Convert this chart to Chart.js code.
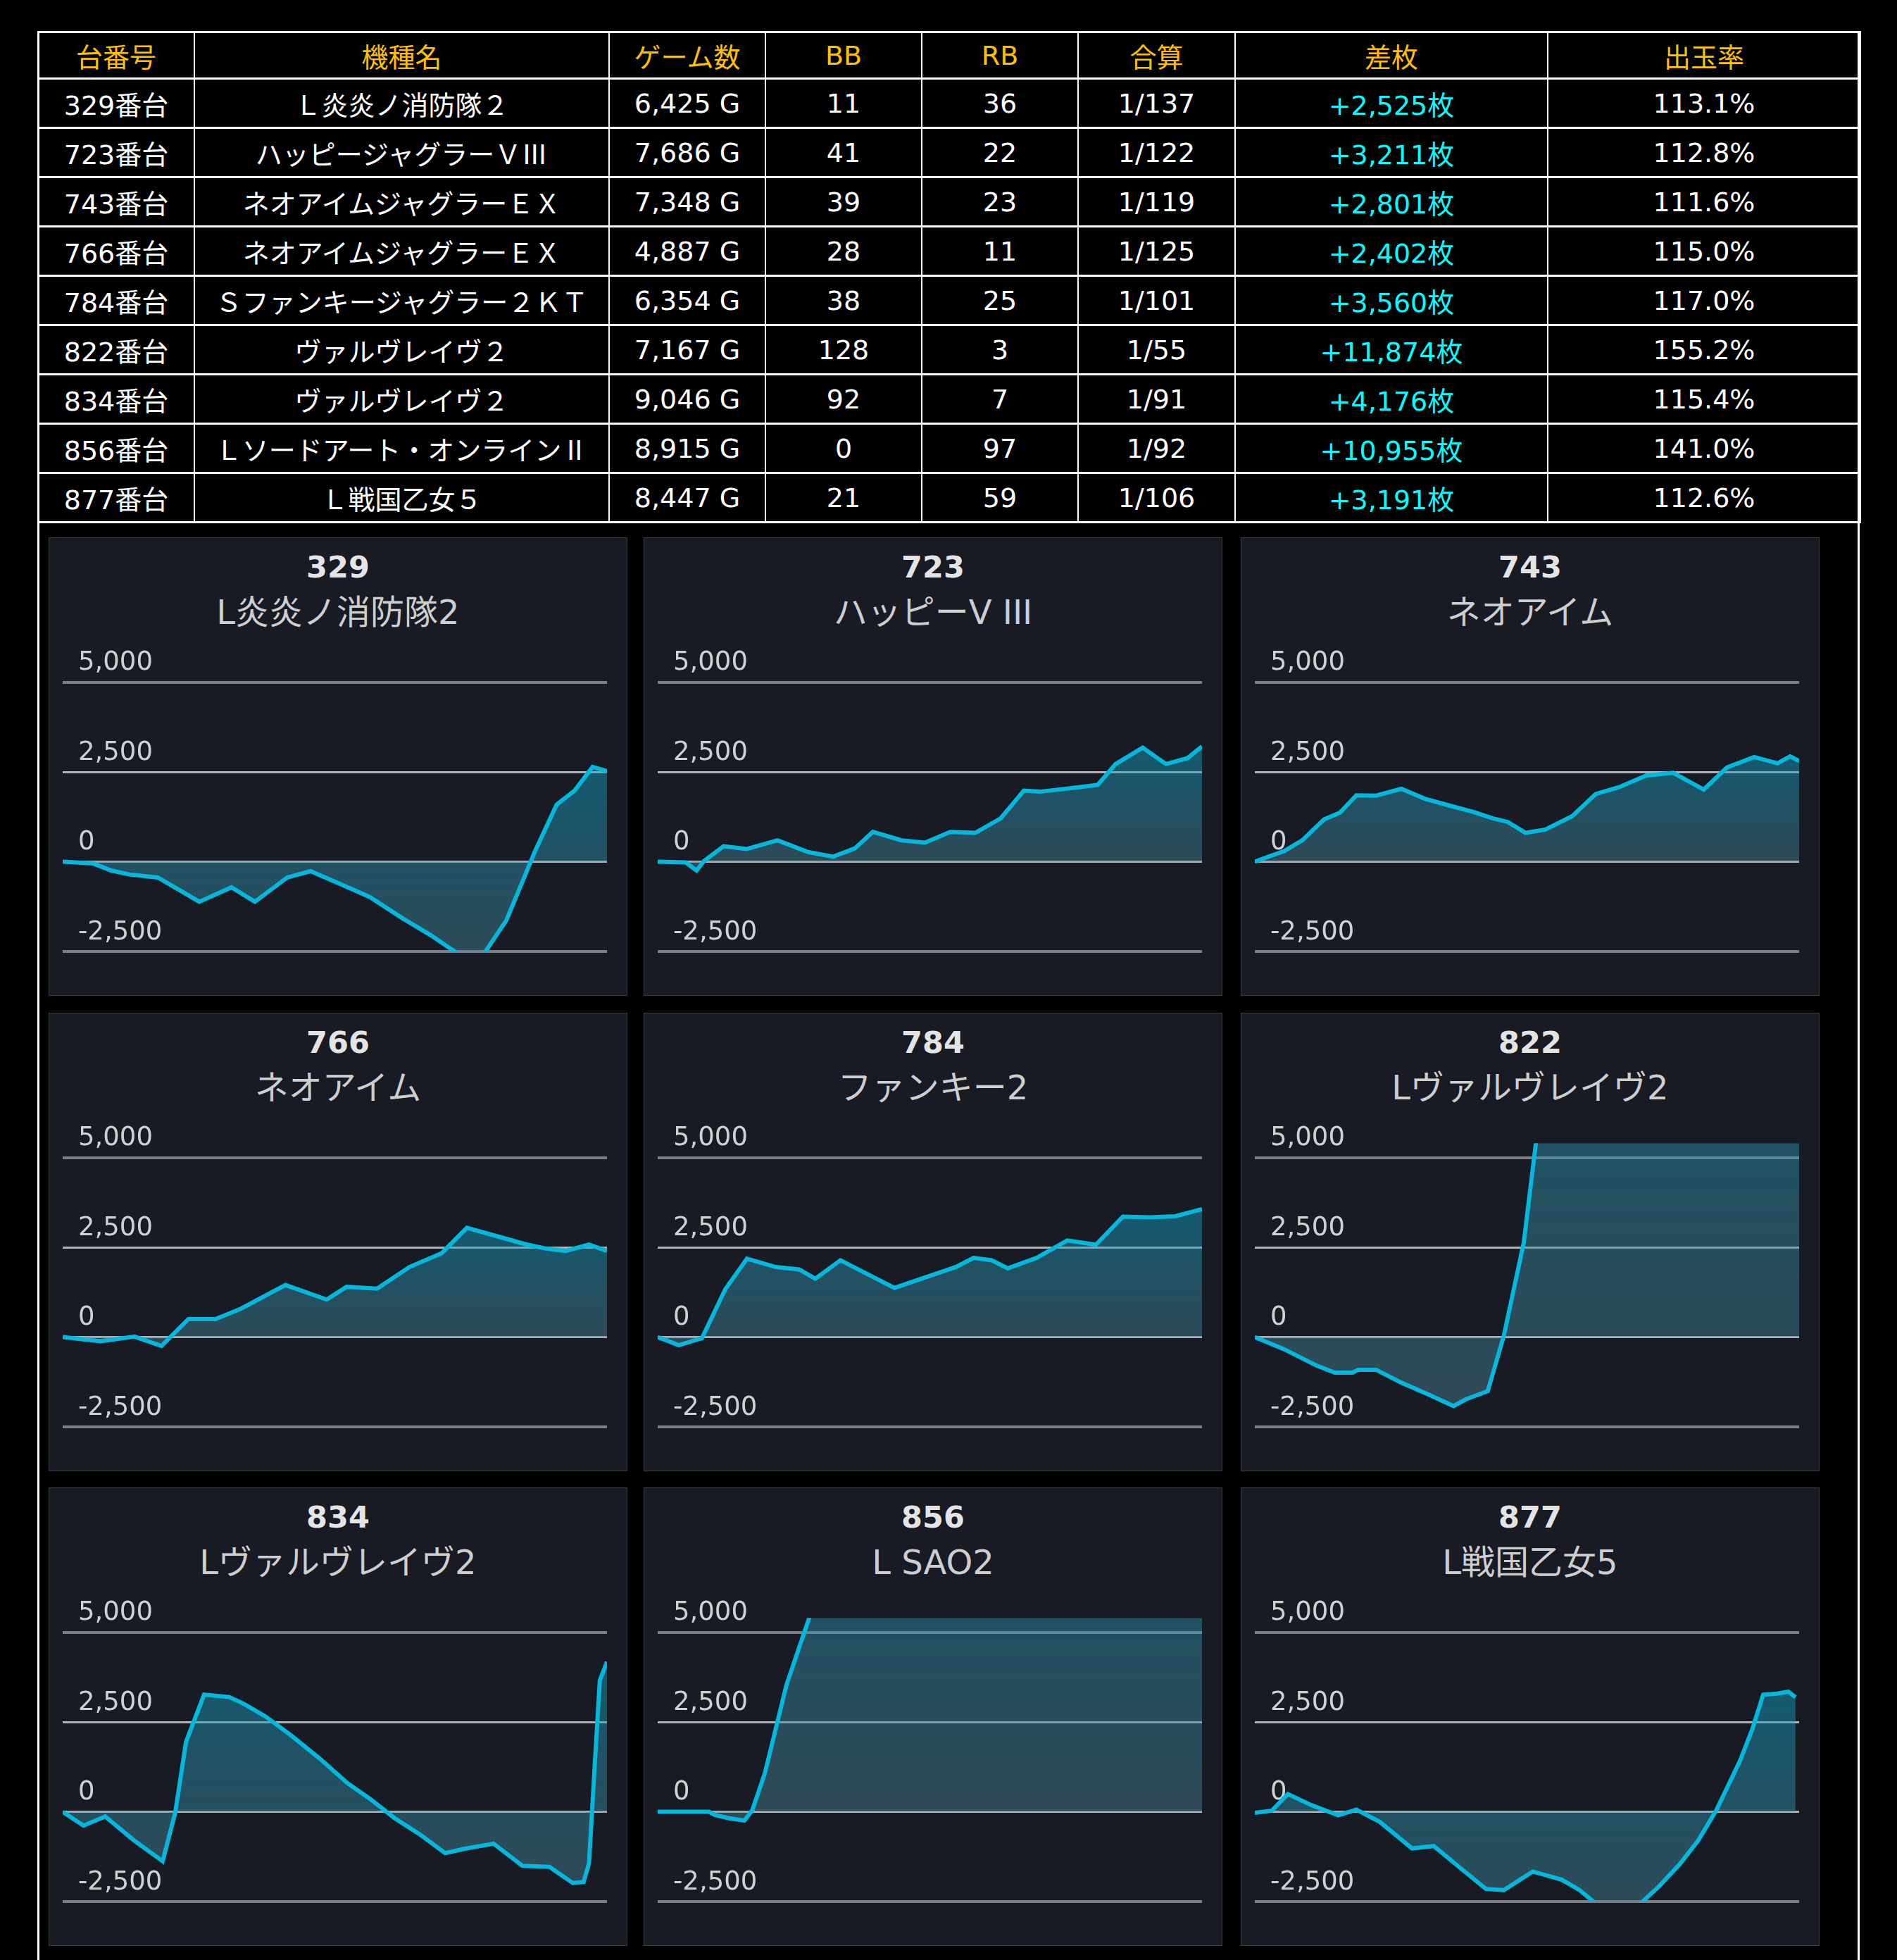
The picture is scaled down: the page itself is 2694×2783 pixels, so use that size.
<html>
<head>
<meta charset="UTF-8">
<script src="https://cdn.jsdelivr.net/npm/chart.js@4.4.0/dist/chart.umd.min.js"></script>
<style>
body {margin: 0; padding: 0; background: #000; width: 2694px; height: 2783px; overflow: hidden;}
#box {position: absolute; left: 53px; top: 44px; width: 2582px; height: 2760px; border-left: 3px solid #fff; border-right: 3px solid #fff;}
#tbl {position: absolute; left: 53px; top: 44px; width: 2588px; border-collapse: collapse; table-layout: fixed;
      font-family: "DejaVu Sans", "Noto Sans CJK JP"; font-size: 38px; color: #fff;}
#tbl td, #tbl th {border: 2px solid #fff; border-top-width: 3px; border-bottom-width: 3px; padding: 0; text-align: center; height: 70px; font-weight: normal;}
#tbl th {color: #ffc000; height: 66px;}
#tbl td.diff {color: #00ffff;}
.cjk {font-family: "Noto Sans CJK JP";}
.panel {position: absolute; width: 820px; height: 649px; background: #181b24; border: 1px solid #3a3d46;}
.no {position: absolute; top: 16px; left: 0; width: 100%; text-align: center; font: bold 43px "DejaVu Sans"; color: #e4e4e4; line-height: 50px;}
.nm {position: absolute; top: 75px; left: 0; width: 100%; text-align: center; font-size: 48px; font-family: "DejaVu Sans", "Noto Sans CJK JP"; color: #cdced0; line-height: 60px;}
.panel canvas {position: absolute; left: 0; top: 140px;}
</style>
</head>
<body>

<div id="box"></div>
<table id="tbl">
  <colgroup>
    <col style="width:222px"><col style="width:589px"><col style="width:222px"><col style="width:222px">
    <col style="width:222px"><col style="width:223px"><col style="width:444px"><col style="width:444px">
  </colgroup>
  <thead id="thead"></thead>
  <tbody id="tbody"></tbody>
</table>
<div id="grid"></div>

<script>
// table data
var headers = ['台番号', '機種名', 'ゲーム数', 'BB', 'RB', '合算', '差枚', '出玉率'];
var machineNos = [329, 723, 743, 766, 784, 822, 834, 856, 877];
var tableNames = ['Ｌ炎炎ノ消防隊２', 'ハッピージャグラーＶⅢ', 'ネオアイムジャグラーＥＸ', 'ネオアイムジャグラーＥＸ',
                  'Ｓファンキージャグラー２ＫＴ', 'ヴァルヴレイヴ２', 'ヴァルヴレイヴ２', 'Ｌソードアート・オンラインⅡ', 'Ｌ戦国乙女５'];
var chartNames = ['L炎炎ノ消防隊2', 'ハッピーV III', 'ネオアイム', 'ネオアイム', 'ファンキー2',
                  'Lヴァルヴレイヴ2', 'Lヴァルヴレイヴ2', 'L SAO2', 'L戦国乙女5'];
var games = [6425, 7686, 7348, 4887, 6354, 7167, 9046, 8915, 8447];
var bb = [11, 41, 39, 28, 38, 128, 92, 0, 21];
var rb = [36, 22, 23, 11, 25, 3, 7, 97, 59];
var gassan = ['1/137', '1/122', '1/119', '1/125', '1/101', '1/55', '1/91', '1/92', '1/106'];
var samai = [2525, 3211, 2801, 2402, 3560, 11874, 4176, 10955, 3191];
var rate = ['113.1%', '112.8%', '111.6%', '115.0%', '117.0%', '155.2%', '115.4%', '141.0%', '112.6%'];

// slump graphs: x = games played, y = coin difference
var x329 = [0, 360, 573, 785, 1124, 1612, 1993, 2269, 2651, 2926, 3244, 3626, 4008, 4347, 4877, 5238, 5577, 5831, 6043, 6255, 6425];
var y329 = [0, -50, -245, -355, -440, -1115, -715, -1115, -440, -265, -590, -985, -1570, -2050, -2900, -1630, 300, 1590, 1980, 2640, 2525];
var x723 = [0, 396, 549, 650, 930, 1260, 1692, 2123, 2479, 2784, 3038, 3444, 3774, 4130, 4486, 4841, 5171, 5400, 5908, 6213, 6467, 6848, 7178, 7483, 7686];
var y723 = [0, -20, -245, 13, 430, 355, 595, 270, 140, 370, 830, 595, 530, 830, 805, 1205, 1980, 1950, 2065, 2140, 2720, 3175, 2720, 2885, 3211];
var x743 = [0, 399, 642, 933, 1152, 1371, 1638, 1978, 2294, 2634, 2950, 3217, 3412, 3655, 3922, 4287, 4602, 4918, 5283, 5647, 6060, 6376, 6741, 7057, 7227, 7348];
var y743 = [0, 300, 595, 1175, 1370, 1850, 1840, 2030, 1755, 1560, 1385, 1205, 1110, 805, 895, 1270, 1885, 2075, 2400, 2475, 2010, 2625, 2915, 2740, 2935, 2801];
var x766 = [0, 145, 339, 645, 887, 1129, 1371, 1597, 2000, 2371, 2549, 2823, 3113, 3403, 3629, 3887, 4145, 4339, 4516, 4726, 4887];
var y766 = [0, -50, -115, 13, -245, 500, 500, 785, 1450, 1045, 1400, 1350, 1950, 2335, 3045, 2820, 2595, 2465, 2400, 2575, 2402];
var x784 = [0, 97, 244, 517, 790, 1042, 1378, 1651, 1840, 2134, 2449, 2764, 3121, 3478, 3688, 3898, 4087, 4423, 4780, 5116, 5431, 5746, 6040, 6354];
var y784 = [0, -85, -225, -30, 1335, 2185, 1950, 1885, 1625, 2140, 1755, 1370, 1660, 1950, 2205, 2140, 1915, 2205, 2690, 2575, 3355, 3335, 3365, 3560];
var x822 = [0, 389, 815, 1052, 1289, 1360, 1597, 1905, 2285, 2616, 2782, 3067, 3280, 3541, 3707, 3991, 4655, 5603, 6551, 7167];
var y822 = [0, -340, -795, -990, -990, -910, -910, -1245, -1600, -1920, -1730, -1505, 45, 2625, 5500, 9500, 11000, 12000, 11500, 11874];
var x834 = [0, 347, 706, 1184, 1662, 1871, 2051, 2350, 2768, 3007, 3366, 3785, 4263, 4741, 5100, 5518, 5937, 6356, 6714, 7163, 7641, 8089, 8478, 8657, 8747, 8837, 8927, 9046];
var y834 = [0, -385, -130, -795, -1375, -20, 1950, 3260, 3195, 3010, 2660, 2140, 1495, 785, 370, -180, -630, -1150, -1020, -890, -1505, -1535, -1985, -1955, -1440, 1140, 3660, 4176];
var x856 = [0, 843, 931, 1167, 1420, 1550, 1756, 2109, 2492, 2964, 4024, 5203, 6381, 7560, 8915];
var y856 = [0, 0, -85, -180, -245, 45, 1075, 3530, 5450, 8000, 9500, 10500, 11200, 10800, 10955];
var x877 = [0, 263, 514, 877, 1296, 1576, 1939, 2441, 2777, 3168, 3587, 3866, 4313, 4760, 5039, 5654, 6268, 6603, 6883, 7162, 7525, 7721, 7889, 8112, 8279, 8391];
var y877 = [-30, 30, 495, 185, -100, 60, -280, -1020, -955, -1535, -2150, -2180, -1665, -1890, -2180, -3100, -2085, -1440, -795, 45, 1400, 2300, 3260, 3290, 3345, 3191];

var xs = [x329, x723, x743, x766, x784, x822, x834, x856, x877];
var ys = [y329, y723, y743, y766, y784, y822, y834, y856, y877];
var yTicks = [-2500, 0, 2500, 5000];

function fmt(n) { return n.toLocaleString('en-US'); }

// build the table
var hr = document.createElement('tr');
headers.forEach(function (h) {
  var th = document.createElement('th');
  th.textContent = h;
  hr.appendChild(th);
});
document.getElementById('thead').appendChild(hr);

var tbody = document.getElementById('tbody');
for (var i = 0; i < machineNos.length; i++) {
  var tr = document.createElement('tr');
  var cells = [machineNos[i] + '番台', tableNames[i], fmt(games[i]) + ' G', bb[i], rb[i], gassan[i], '+' + fmt(samai[i]) + '枚', rate[i]];
  for (var j = 0; j < cells.length; j++) {
    var td = document.createElement('td');
    if (j == 1) {
      // roman numerals look wider in the CJK font
      td.innerHTML = String(cells[j]).replace(/([ⅡⅢ])/g, '<span class="cjk">$1</span>');
    } else {
      td.textContent = cells[j];
    }
    if (j == 6) td.className = 'diff';
    tr.appendChild(td);
  }
  tbody.appendChild(tr);
}

// panels
var lefts = [69, 914, 1762];
var tops = [763, 1438, 2112];
var grid = document.getElementById('grid');

function makeChart(canvas, xv, yv, gameMax) {
  var pts = xv.map(function (x, k) { return {x: x, y: yv[k]}; });
  var hi = Math.max.apply(null, yv);
  var lo = Math.min.apply(null, yv.concat([0]));
  new Chart(canvas, {
    type: 'line',
    data: {
      datasets: [{
        data: pts,
        borderColor: '#06b6db',
        borderWidth: 6,
        pointRadius: 0,
        tension: 0,
        fill: 'origin',
        backgroundColor: function (c) {
          var ch = c.chart;
          if (!ch.chartArea) return 'rgba(0,0,0,0)';
          var sy = ch.scales.y;
          var g = ch.ctx.createLinearGradient(0, sy.getPixelForValue(hi), 0, sy.getPixelForValue(lo));
          g.addColorStop(0, 'rgba(15,167,203,0.45)');
          g.addColorStop(1, 'rgba(77,131,149,0.45)');
          return g;
        }
      }]
    },
    options: {
      responsive: false,
      animation: false,
      devicePixelRatio: 1,
      layout: {padding: {left: 19, right: 28, top: 40, bottom: 63}},
      plugins: {legend: {display: false}, tooltip: {enabled: false}},
      scales: {
        x: {type: 'linear', min: 0, max: gameMax, display: false},
        y: {
          min: -2500,
          max: 5400,
          afterBuildTicks: function (s) {
            s.ticks = yTicks.map(function (v) { return {value: v}; });
          },
          afterFit: function (s) { s.width = 0; },
          border: {display: false},
          grid: {
            drawTicks: false,
            color: function (c) { return (c.tick && (c.tick.value == 0 || c.tick.value == 2500)) ? '#b0b2b6' : '#7c7f87'; },
            lineWidth: function (c) { return (c.tick && (c.tick.value == 0 || c.tick.value == 2500)) ? 3 : 4; }
          },
          ticks: {
            mirror: true,
            padding: 22,
            labelOffset: -27,
            color: '#cfd0d2',
            font: {family: 'DejaVu Sans', size: 37},
            callback: function (v) { return fmt(v); }
          }
        }
      }
    }
  });
}

for (var p = 0; p < machineNos.length; p++) {
  var d = document.createElement('div');
  d.className = 'panel';
  d.style.left = lefts[p % 3] + 'px';
  d.style.top = tops[Math.floor(p / 3)] + 'px';
  var no = document.createElement('div');
  no.className = 'no';
  no.textContent = machineNos[p];
  var nm = document.createElement('div');
  nm.className = 'nm';
  nm.textContent = chartNames[p];
  var cv = document.createElement('canvas');
  cv.width = 820;
  cv.height = 510;
  d.appendChild(no);
  d.appendChild(nm);
  d.appendChild(cv);
  grid.appendChild(d);
  makeChart(cv, xs[p], ys[p], games[p]);
}
</script>
</body>
</html>
